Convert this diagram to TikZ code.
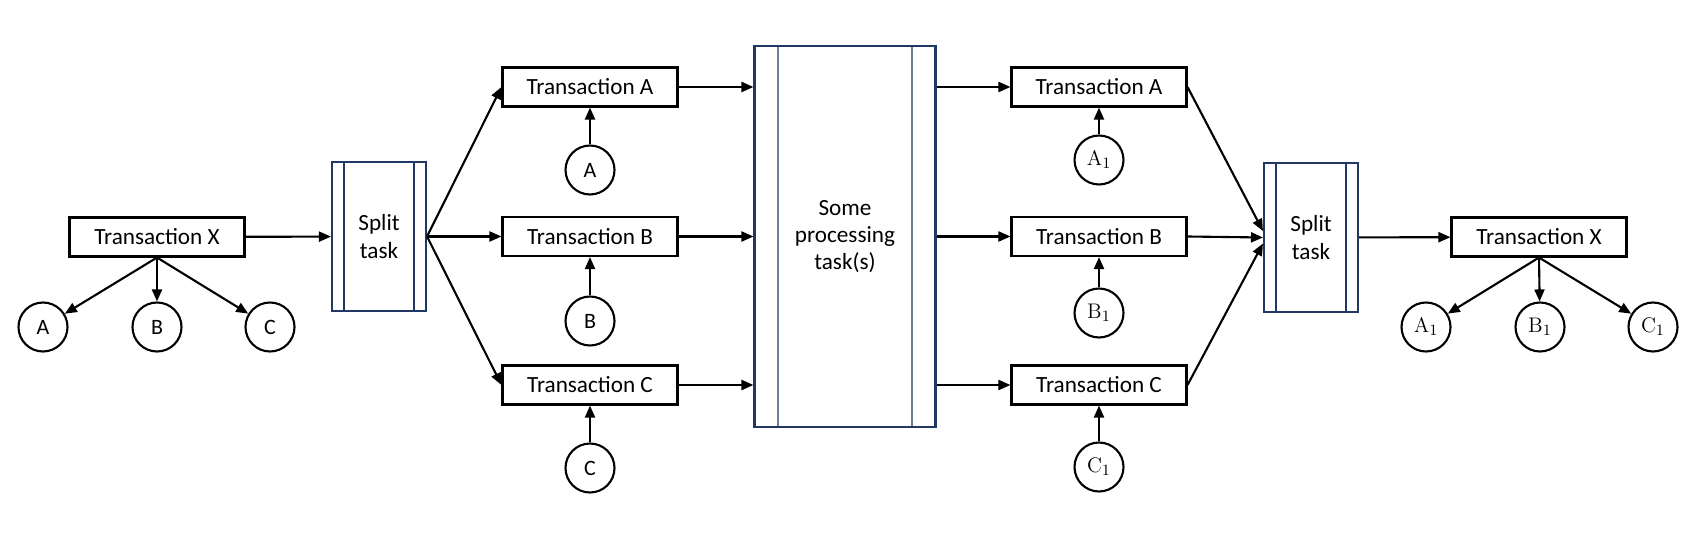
\documentclass[tikz,border=0pt]{standalone}
\usepackage[no-math]{fontspec}
\setmainfont{Carlito}
\usetikzlibrary{arrows.meta}
\definecolor{navy}{HTML}{203864}
\definecolor{paleline}{HTML}{6F7F99}

\begin{document}
\begin{tikzpicture}[x=0.02cm,y=-0.02cm,line width=1.2pt,
font=\fontsize{13.2}{15.5}\selectfont,
>={Triangle[length=0.24cm,width=0.2cm]},
trans/.style={draw,minimum width=3.5cm,minimum height=0.78cm,inner sep=0pt},
val/.style={draw,circle,minimum size=0.98cm,inner sep=0pt,font=\fontsize{12.5}{14}\selectfont},
task/.style={draw=navy,align=center,inner sep=0pt},
bars/.style 2 args={path picture={
 \draw[#2] ([xshift=#1]path picture bounding box.north west) -- ([xshift=#1]path picture bounding box.south west)
 ([xshift=-#1]path picture bounding box.north east) -- ([xshift=-#1]path picture bounding box.south east);}}]
\useasboundingbox (0,0) rectangle (1696,533);

% input side
\node[trans] (tx) at (157,237) {Transaction X};
\node[val] (va) at (43,327) {A};
\node[val] (vb) at (157,327) {B};
\node[val] (vc) at (270,327) {C};
\node[task,bars={0.24cm}{navy},minimum width=1.88cm,minimum height=2.98cm] (sp1) at (379,236.5) {Split\\task};

\node[trans] (ta) at (590,87) {Transaction A};
\node[trans] (tb) at (590,236.5) {Transaction B};
\node[trans] (tc) at (590,385) {Transaction C};
\node[val] (ca) at (590,170) {A};
\node[val] (cb) at (590,321) {B};
\node[val] (cc) at (590,468) {C};

\node[task,bars={0.47cm}{paleline},minimum width=3.62cm,minimum height=7.62cm] (proc) at (845,236.5) {Some\\processing\\task(s)};

% output side
\node[trans] (ta2) at (1099,87) {Transaction A};
\node[trans] (tb2) at (1099,236.5) {Transaction B};
\node[trans] (tc2) at (1099,385) {Transaction C};
\node[val] (ca2) at (1099,160) {$\mathrm{A}_1$};
\node[val] (cb2) at (1099,313) {$\mathrm{B}_1$};
\node[val] (cc2) at (1099,467) {$\mathrm{C}_1$};

\node[task,bars={0.24cm}{navy},minimum width=1.88cm,minimum height=2.98cm] (sp2) at (1311,237.5) {Split\\task};

\node[trans] (tx2) at (1539,237) {Transaction X};
\node[val] (va2) at (1426,327) {$\mathrm{A}_1$};
\node[val] (vb2) at (1540,327) {$\mathrm{B}_1$};
\node[val] (vc2) at (1653,327) {$\mathrm{C}_1$};

\draw[->] (tx.south) -- (va);
\draw[->] (tx.south) -- (vb);
\draw[->] (tx.south) -- (vc);
\draw[->] (tx) -- (sp1);
\draw[->] (sp1.east) -- (ta.west);
\draw[->] (sp1.east) -- (tb.west);
\draw[->] (sp1.east) -- (tc.west);
\foreach \t/\c in {ta/ca,tb/cb,tc/cc,ta2/ca2,tb2/cb2,tc2/cc2}
  \draw[->] (\c) -- (\t);
\foreach \t in {ta,tb,tc}
  \draw[->] (\t.east) -- (\t.east -| proc.west);
\foreach \t in {ta2,tb2,tc2}
  \draw[->] (\t.west -| proc.east) -- (\t.west);
\draw[->] (ta2.east) -- ([yshift=0.13cm]sp2.west);
\draw[->] (tb2.east) -- (sp2.west);
\draw[->] (tc2.east) -- ([yshift=-0.12cm]sp2.west);
\draw[->] (sp2) -- (tx2);
\draw[->] (tx2.south) -- (va2);
\draw[->] (tx2.south) -- (vb2);
\draw[->] (tx2.south) -- (vc2);
\end{tikzpicture}
\end{document}
